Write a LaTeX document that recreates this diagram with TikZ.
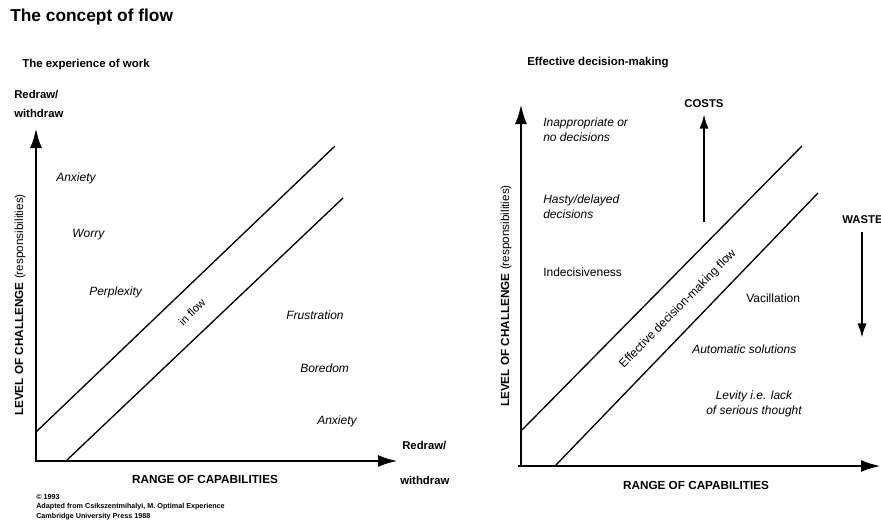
\documentclass[tikz,border=0pt]{standalone}
\usepackage{fontspec}
\setmainfont{Liberation Sans}
\usetikzlibrary{arrows.meta}
\begin{document}
\begin{tikzpicture}[x=0.75pt,y=-0.75pt,
  axis/.style={line width=2.2pt,-{Latex[length=15pt,width=9pt]}},
  thinarrow/.style={line width=1.8pt,-{Latex[length=11pt,width=7pt]}},
  diag/.style={line width=1pt},
  lbl/.style={font=\itshape\fontsize{9}{11}\selectfont,anchor=west,inner sep=0pt},
  rlbl/.style={font=\fontsize{9}{11}\selectfont,anchor=west,inner sep=0pt,align=left},
  caps/.style={font=\bfseries\fontsize{8.8}{10}\selectfont,inner sep=0pt},
  sub/.style={font=\bfseries\fontsize{8.6}{10}\selectfont,anchor=west,inner sep=0pt},
  endlbl/.style={font=\bfseries\fontsize{8.5}{10}\selectfont,anchor=west,inner sep=0pt},
  ylbl/.style={font=\fontsize{8.8}{10}\selectfont,rotate=90,inner sep=0pt},
  note/.style={font=\bfseries\fontsize{5.4}{6.5}\selectfont,anchor=west,inner sep=0pt}]
\useasboundingbox (0,0) rectangle (881,528);
\fill[white] (0,0) rectangle (881,528);

% titles
\node[font=\bfseries\fontsize{13}{15}\selectfont,anchor=west,inner sep=0pt] (title) at (10,17) {The concept of flow};
\node[sub] (sub1) at (22,65) {The experience of work};
\node[sub] (sub2) at (527,63) {Effective decision-making};

% ---------- left chart ----------
\coordinate (o1) at (36,460);
\coordinate (ytip1) at (36,128);
\coordinate (xtip1) at (398,461);
\draw[axis] (o1) -- (ytip1);
\draw[axis] (35,461) -- (xtip1);
\coordinate (u1a) at (36,432);
\coordinate (u1b) at (335,146);
\coordinate (l1a) at (67,460);
\coordinate (l1b) at (343,198);
\draw[diag] (u1a) -- (u1b);
\draw[diag] (l1a) -- (l1b);
\node[font=\fontsize{8.5}{10}\selectfont,inner sep=0pt,rotate=44] (inflow) at (192,312) {in flow};

\node[endlbl] (rw1a) at (14,95) {Redraw/};
\node[endlbl] (rw1b) at (14,113) {withdraw};
\node[lbl] (anx1) at (56,178) {Anxiety};
\node[lbl] (worry) at (72,235) {Worry};
\node[lbl] (perp) at (89,292) {Perplexity};
\node[lbl] (frus) at (286,315) {Frustration};
\node[lbl] (bore) at (300,368) {Boredom};
\node[lbl] (anx2) at (317,421) {Anxiety};
\node[endlbl] (rw2a) at (402,446) {Redraw/};
\node[endlbl] (rw2b) at (400,480) {withdraw};
\node[caps] (range1) at (205,479) {RANGE OF CAPABILITIES};
\node[ylbl] (lev1) at (20,305) {\textbf{LEVEL OF CHALLENGE} (responsibilities)};

\node[note] (n1) at (36,497) {© 1993};
\node[note] (n2) at (36,507) {Adapted from Csikszentmihalyi, M. Optimal Experience};
\node[note] (n3) at (36,517) {Cambridge University Press 1988};

% ---------- right chart ----------
\coordinate (o2) at (521,466);
\coordinate (ytip2) at (521,104);
\coordinate (xtip2) at (881,466);
\draw[axis] (o2) -- (ytip2);
\draw[axis] (518,466) -- (xtip2);
\coordinate (u2a) at (522,430);
\coordinate (u2b) at (802,146);
\coordinate (l2a) at (555,466);
\coordinate (l2b) at (818,193);
\draw[diag] (u2a) -- (u2b);
\draw[diag] (l2a) -- (l2b);
\node[font=\fontsize{9}{11}\selectfont,inner sep=0pt,rotate=45.5] (edmf) at (678,309) {Effective decision-making flow};

\node[endlbl,anchor=center] (costs) at (704,104) {COSTS};
\coordinate (c1) at (704,222);
\coordinate (c2) at (704,114);
\draw[thinarrow] (c1) -- (c2);
\node[endlbl] (waste) at (842,220) {WASTE};
\coordinate (w1) at (862,232);
\coordinate (w2) at (862,338);
\draw[thinarrow] (w1) -- (w2);

\node[lbl,align=left] (inap) at (543,130) {Inappropriate or\\no decisions};
\node[lbl,align=left] (hasty) at (543,207) {Hasty/delayed\\decisions};
\node[rlbl] (indec) at (543,272) {Indecisiveness};
\node[rlbl] (vac) at (746,298) {Vacillation};
\node[lbl] (auto) at (692,349) {Automatic solutions};
\node[lbl,anchor=center,align=center] (lev) at (754,404) {Levity i.e. lack\\of serious thought};
\node[caps] (range2) at (696,485) {RANGE OF CAPABILITIES};
\node[ylbl] (lev2) at (506,296) {\textbf{LEVEL OF CHALLENGE} (responsibilities)};
\end{tikzpicture}
\end{document}
